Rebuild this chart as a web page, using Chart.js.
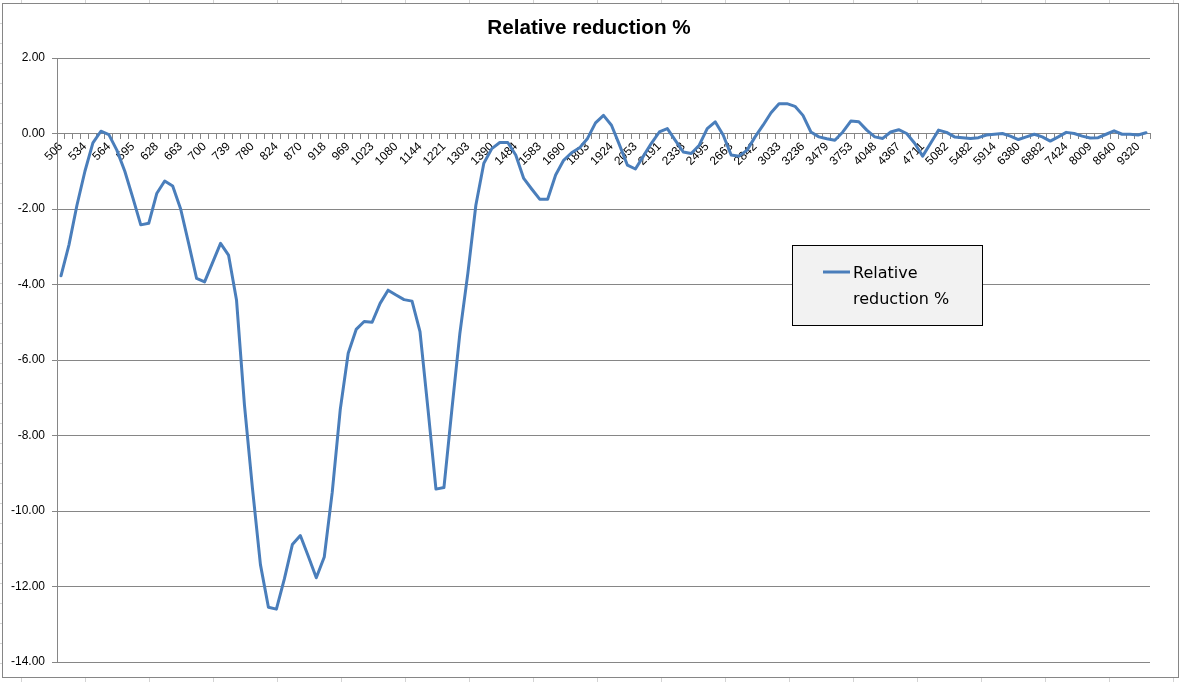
<!DOCTYPE html>
<html>
<head>
<meta charset="utf-8">
<title>Relative reduction %</title>
<script src="https://cdn.jsdelivr.net/npm/chart.js@4.4.0/dist/chart.umd.min.js"></script>
<style>
  body { margin: 0; background: #fff; }
</style>
</head>
<body>
<canvas id="myChart" width="1182" height="682"></canvas>
<script>
// category labels, only every 3rd category has one
var tickLabels = [506, 534, 564, 595, 628, 663, 700, 739, 780, 824, 870, 918, 969, 1023, 1080,
    1144, 1221, 1303, 1390, 1484, 1583, 1690, 1803, 1924, 2053, 2191, 2338, 2495, 2663, 2842,
    3033, 3236, 3479, 3753, 4048, 4367, 4711, 5082, 5482, 5914, 6380, 6882, 7424, 8009, 8640, 9320];
var labelEvery = 3;

var seriesName = "Relative reduction %";
// values, one per category
var reduction = [
    -3.77, -2.95, -1.90, -1.00, -0.25, 0.06, -0.03, -0.44, -1.00, -1.70,
    -2.42, -2.38, -1.59, -1.26, -1.39, -2.00, -2.91, -3.84, -3.93, -3.42,
    -2.91, -3.22, -4.41, -7.20, -9.40, -11.42, -12.55, -12.60, -11.80, -10.89,
    -10.65, -11.20, -11.77, -11.22, -9.50, -7.32, -5.82, -5.19, -4.98, -5.00,
    -4.50, -4.15, -4.28, -4.40, -4.44, -5.25, -7.30, -9.42, -9.38, -7.30,
    -5.29, -3.70, -1.90, -0.79, -0.40, -0.24, -0.24, -0.57, -1.19, -1.47,
    -1.74, -1.74, -1.10, -0.71, -0.51, -0.38, -0.13, 0.28, 0.48, 0.22,
    -0.30, -0.84, -0.94, -0.60, -0.26, 0.04, 0.13, -0.18, -0.49, -0.53,
    -0.31, 0.13, 0.31, -0.04, -0.57, -0.60, -0.44, -0.09, 0.22, 0.55,
    0.79, 0.79, 0.72, 0.48, 0.04, -0.09, -0.14, -0.18, 0.04, 0.33,
    0.31, 0.09, -0.09, -0.13, 0.04, 0.10, 0.00, -0.26, -0.60, -0.26,
    0.09, 0.03, -0.09, -0.11, -0.13, -0.11, -0.04, -0.02, 0.00, -0.07,
    -0.16, -0.09, -0.02, -0.09, -0.20, -0.09, 0.03, 0.00, -0.07, -0.12,
    -0.11, -0.02, 0.07, -0.02, -0.02, -0.04, 0.02
];

var yMin = -14;
var yMax = 2;
var yStep = 2;

var lineColor = "#4a7ebb";
var gridColor = "#868686";
var axisFont = { family: "'Liberation Sans', Arial, sans-serif", size: 12 };

var categories = reduction.map(function (v, i) {
    return i % labelEvery === 0 ? String(tickLabels[i / labelEvery]) : "";
});

// white page, faint sheet cells round the chart, chart border
var framePlugin = {
    id: "frame",
    beforeDraw: function (chart) {
        var ctx = chart.ctx;
        var w = chart.width, h = chart.height;
        ctx.save();
        ctx.fillStyle = "#fff";
        ctx.fillRect(0, 0, w, h);
        ctx.strokeStyle = "#d4d4d4";
        ctx.lineWidth = 1;
        ctx.beginPath();
        for (var x = 21.5; x < w; x += 64) {
            ctx.moveTo(x, 0); ctx.lineTo(x, 3);
            ctx.moveTo(x, 678); ctx.lineTo(x, h);
        }
        for (var y = 23.5; y < h; y += 20) {
            ctx.moveTo(0, y); ctx.lineTo(2, y);
        }
        ctx.stroke();
        ctx.strokeStyle = gridColor;
        ctx.strokeRect(2.5, 3.5, 1176, 674);
        ctx.restore();
    },
    afterDraw: function (chart) {
        // chart title, centred on the whole chart object
        var ctx = chart.ctx;
        ctx.save();
        ctx.fillStyle = "#000";
        ctx.font = "bold 20.7px 'Liberation Sans', Arial, sans-serif";
        ctx.textAlign = "center";
        ctx.textBaseline = "middle";
        ctx.fillText(seriesName, 589, 28);
        ctx.restore();
    }
};

// legend box sitting inside the plot, like the original
var boxLegend = {
    id: "boxLegend",
    afterDraw: function (chart) {
        var ctx = chart.ctx;
        var ds = chart.data.datasets[0];
        var words = ds.label.split(" ");
        ctx.save();
        ctx.fillStyle = "#f2f2f2";
        ctx.fillRect(792.5, 245.5, 190, 80);
        ctx.strokeStyle = "#000";
        ctx.lineWidth = 1;
        ctx.strokeRect(792.5, 245.5, 190, 80);
        ctx.strokeStyle = ds.borderColor;
        ctx.lineWidth = 3;
        ctx.beginPath();
        ctx.moveTo(823, 272);
        ctx.lineTo(850, 272);
        ctx.stroke();
        ctx.fillStyle = "#000";
        ctx.font = "16px 'DejaVu Sans', sans-serif";
        ctx.textBaseline = "alphabetic";
        ctx.fillText(words[0], 853, 278);
        ctx.fillText(words.slice(1).join(" "), 853, 304);
        ctx.restore();
    }
};

new Chart("myChart", {
    type: "line",
    data: {
        labels: categories,
        datasets: [{
            label: seriesName,
            data: reduction,
            borderColor: lineColor,
            borderWidth: 3,
            borderJoinStyle: "round",
            borderCapStyle: "round",
            pointRadius: 0,
            tension: 0,
            fill: false
        }]
    },
    options: {
        responsive: false,
        animation: false,
        layout: { padding: { left: 0, right: 32, top: 58, bottom: 20 } },
        plugins: {
            legend: { display: false },
            tooltip: { enabled: false },
            title: { display: false }
        },
        scales: {
            x: {
                position: { y: 0 },
                offset: true,
                grid: { offset: true, drawOnChartArea: false, tickLength: 5, color: gridColor },
                border: { color: gridColor },
                ticks: {
                    autoSkip: false,
                    minRotation: 45,
                    maxRotation: 45,
                    padding: 1,
                    color: "#000",
                    font: axisFont
                }
            },
            y: {
                min: yMin,
                max: yMax,
                grid: { color: gridColor, tickLength: 5 },
                border: { color: gridColor },
                ticks: {
                    stepSize: yStep,
                    padding: 7,
                    color: "#000",
                    font: axisFont,
                    callback: function (v) { return v.toFixed(2); }
                },
                afterFit: function (scale) { scale.width = 57; }
            }
        }
    },
    plugins: [framePlugin, boxLegend]
});
</script>
</body>
</html>
